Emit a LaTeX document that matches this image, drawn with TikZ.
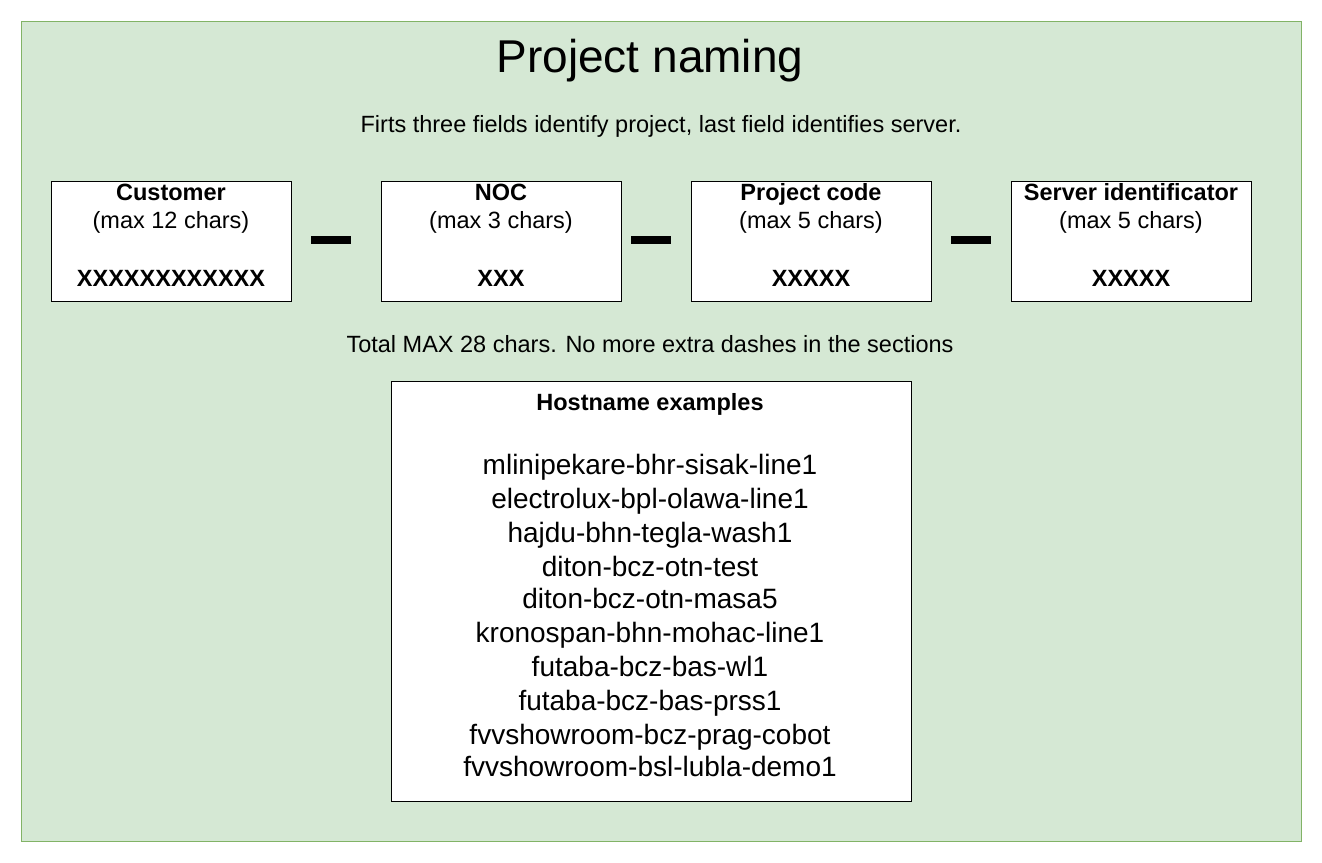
\documentclass[tikz,border=0pt]{standalone}
\usepackage{fontspec}
\setmainfont{Liberation Sans}
\begin{document}
\begin{tikzpicture}[x=1pt,y=-1pt,
  every node/.style={text height=0.72em,text depth=0.2em},
  field/.style={draw=black,line width=1.3pt,fill=white,minimum width=240pt,minimum height=120pt,anchor=north west,inner sep=0pt,text height=,text depth=},
  lbl/.style={font=\fontsize{23.5}{26}\selectfont},
  blbl/.style={font=\bfseries\fontsize{23.5}{26}\selectfont},
  sepbar/.style={fill=black,minimum width=40pt,minimum height=8pt,inner sep=0pt,text height=,text depth=},
  ex/.style={font=\fontsize{28}{30}\selectfont}]
\useasboundingbox (0,0) rectangle (1322,862);
\node[draw={rgb,255:red,130;green,179;blue,102},line width=1.3pt,fill={rgb,255:red,213;green,232;blue,212},minimum width=1280pt,minimum height=820pt,anchor=north west,inner sep=0pt,text height=,text depth=] (bg) at (21,21) {};
\node[font=\fontsize{46}{50}\selectfont] (title) at (650,70) {Project naming};
\node[lbl] (sub) at (661,130) {Firts three fields identify project, last field identifies server.};
\foreach \x/\n/\a/\b/\c in {51/f1/Customer/(max 12 chars)/XXXXXXXXXXXX,381/f2/NOC/(max 3 chars)/XXX,691/f3/Project code/(max 5 chars)/XXXXX,1011/f4/Server identificator/(max 5 chars)/XXXXX}{
  \node[field] (\n) at (\x,181) {};
  \node[blbl] (\n a) at (\x+120,198) {\a};
  \node[lbl] (\n b) at (\x+120,226) {\b};
  \node[blbl] (\n c) at (\x+120,284) {\c};
}
\node[sepbar] (d1) at (331,240) {};
\node[sepbar] (d2) at (651,240) {};
\node[sepbar] (d3) at (971,240) {};
\node[lbl] (total) at (650,350) {Total MAX 28 chars. No more extra dashes in the sections};
\node[draw=black,line width=1.3pt,fill=white,minimum width=520pt,minimum height=420pt,anchor=north west,inner sep=0pt,text height=,text depth=] (exbox) at (391,381) {};
\node[blbl] (exh) at (650,408) {Hostname examples};
\foreach \y/\t [count=\i] in {472/mlinipekare-bhr-sisak-line1,506/electrolux-bpl-olawa-line1,540/hajdu-bhn-tegla-wash1,574/diton-bcz-otn-test,606/diton-bcz-otn-masa5,640/kronospan-bhn-mohac-line1,674/futaba-bcz-bas-wl1,708/futaba-bcz-bas-prss1,742/fvvshowroom-bcz-prag-cobot,774/fvvshowroom-bsl-lubla-demo1}{
  \node[ex] (e\i) at (650,\y) {\t};
}
\end{tikzpicture}
\end{document}
